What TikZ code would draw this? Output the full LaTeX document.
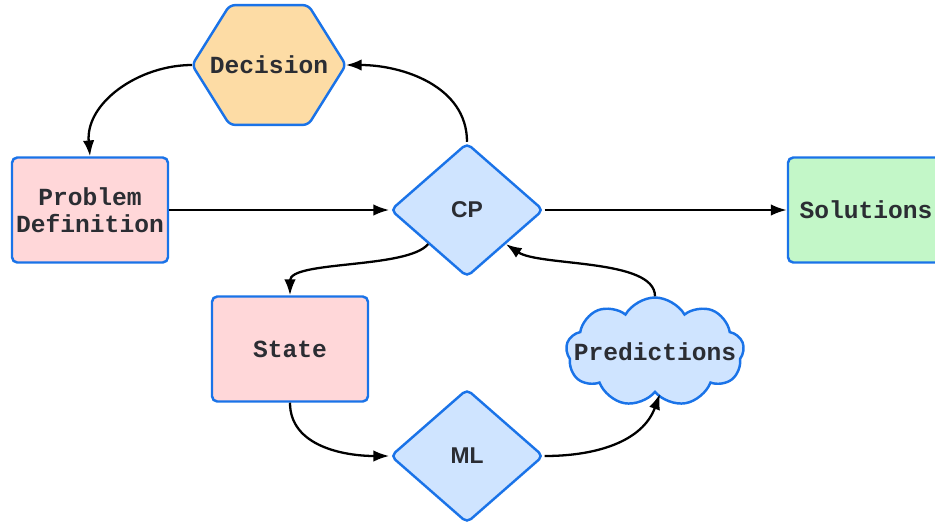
\documentclass[tikz,border=0pt]{standalone}
\usepackage{fontspec}
\setmonofont{Liberation Mono}
\setsansfont{Liberation Sans}
\usepackage{tikz}
\usetikzlibrary{arrows.meta,positioning,shapes.geometric,shapes.symbols,backgrounds}
\definecolor{edgeblue}{HTML}{1A73E8}
\definecolor{inkgray}{HTML}{2B2D33}
\definecolor{hexfill}{HTML}{FDDCA5}
\definecolor{pinkfill}{HTML}{FFD7D9}
\definecolor{bluefill}{HTML}{CFE4FF}
\definecolor{greenfill}{HTML}{C3F7C8}
\tikzset{node distance=7.54cm,
  >={Latex[length=9pt,width=6.5pt]},
  txt/.style={text=inkgray, font=\ttfamily\bfseries\fontsize{14}{15.3}\selectfont, align=center, inner sep=0pt},
  box/.style={txt, draw=edgeblue, line width=1.4pt, rounded corners=3pt, minimum width=3.12cm, minimum height=2.1cm},
  dia/.style={diamond, draw=edgeblue, line width=1.4pt, rounded corners=3pt, fill=bluefill, text=inkgray,
    font=\sffamily\bfseries\fontsize{13}{15}\selectfont, aspect=1.14, minimum width=3.06cm, minimum height=2.68cm, inner sep=0pt},
  hexa/.style={txt, minimum width=3.06cm, minimum height=2.38cm},
  hexline/.style={draw=edgeblue, line width=1.4pt, rounded corners=3pt, fill=hexfill},
  blob/.style={txt, cloud, cloud puffs=9, cloud puff arc=120, cloud ignores aspect, draw=edgeblue, line width=1.4pt,
    fill=bluefill, minimum width=3.56cm, minimum height=2.18cm},
  flow/.style={->, line width=1.3pt}
}
\begin{document}
\begin{tikzpicture}
  \useasboundingbox (0,0) rectangle (18.7,-10.44);
  \node (PD)  [box, fill=pinkfill] at (1.8,-4.2)                  {Problem\\Definition};
  \node (CP)  [dia, right of=PD]                                  {CP};
  \node (Sol) [box, fill=greenfill, right of=CP, xshift=0.44cm]   {Solutions};
  \node (Dec) [hexa, above of=PD, xshift=3.58cm, yshift=-4.64cm]  {Decision};
  \node (St)  [box, fill=pinkfill, below of=PD, xshift=4cm, yshift=4.76cm] {State};
  \node (ML)  [dia, below of=CP, yshift=2.62cm]                   {ML};
  \node (Pr)  [blob, above of=ML, xshift=3.76cm, yshift=-5.46cm]  {\makebox[0pt]{Predictions}};
  % hexagon behind the decision text
  \begin{scope}[on background layer]
    \draw[hexline] (Dec.west) -- ([xshift=0.75cm]Dec.north west) -- ([xshift=-0.75cm]Dec.north east)
      -- (Dec.east) -- ([xshift=-0.75cm]Dec.south east) -- ([xshift=0.75cm]Dec.south west) -- cycle;
  \end{scope}
  % loop through the solver
  \draw[flow] (Dec.west) to[out=180,in=95] (PD.north);
  \draw[flow] (CP.north) to[out=90,in=0] (Dec.east);
  \draw[flow] (PD.east) -- (CP.west);
  \draw[flow] (CP.east) -- (Sol.west);
  % learning side
  \draw[flow] (CP.south west) .. controls +(-0.42,-0.5) and +(0,0.7) .. (St.north);
  \draw[flow] (St.south) to[out=-90,in=180] (ML.west);
  \draw[flow] (ML.east) to[out=0,in=-110] ([xshift=0.1cm]Pr.south);
  \draw[flow] (Pr.north) .. controls +(0,0.76) and +(0.68,-0.45) .. (CP.south east);
\end{tikzpicture}
\end{document}
